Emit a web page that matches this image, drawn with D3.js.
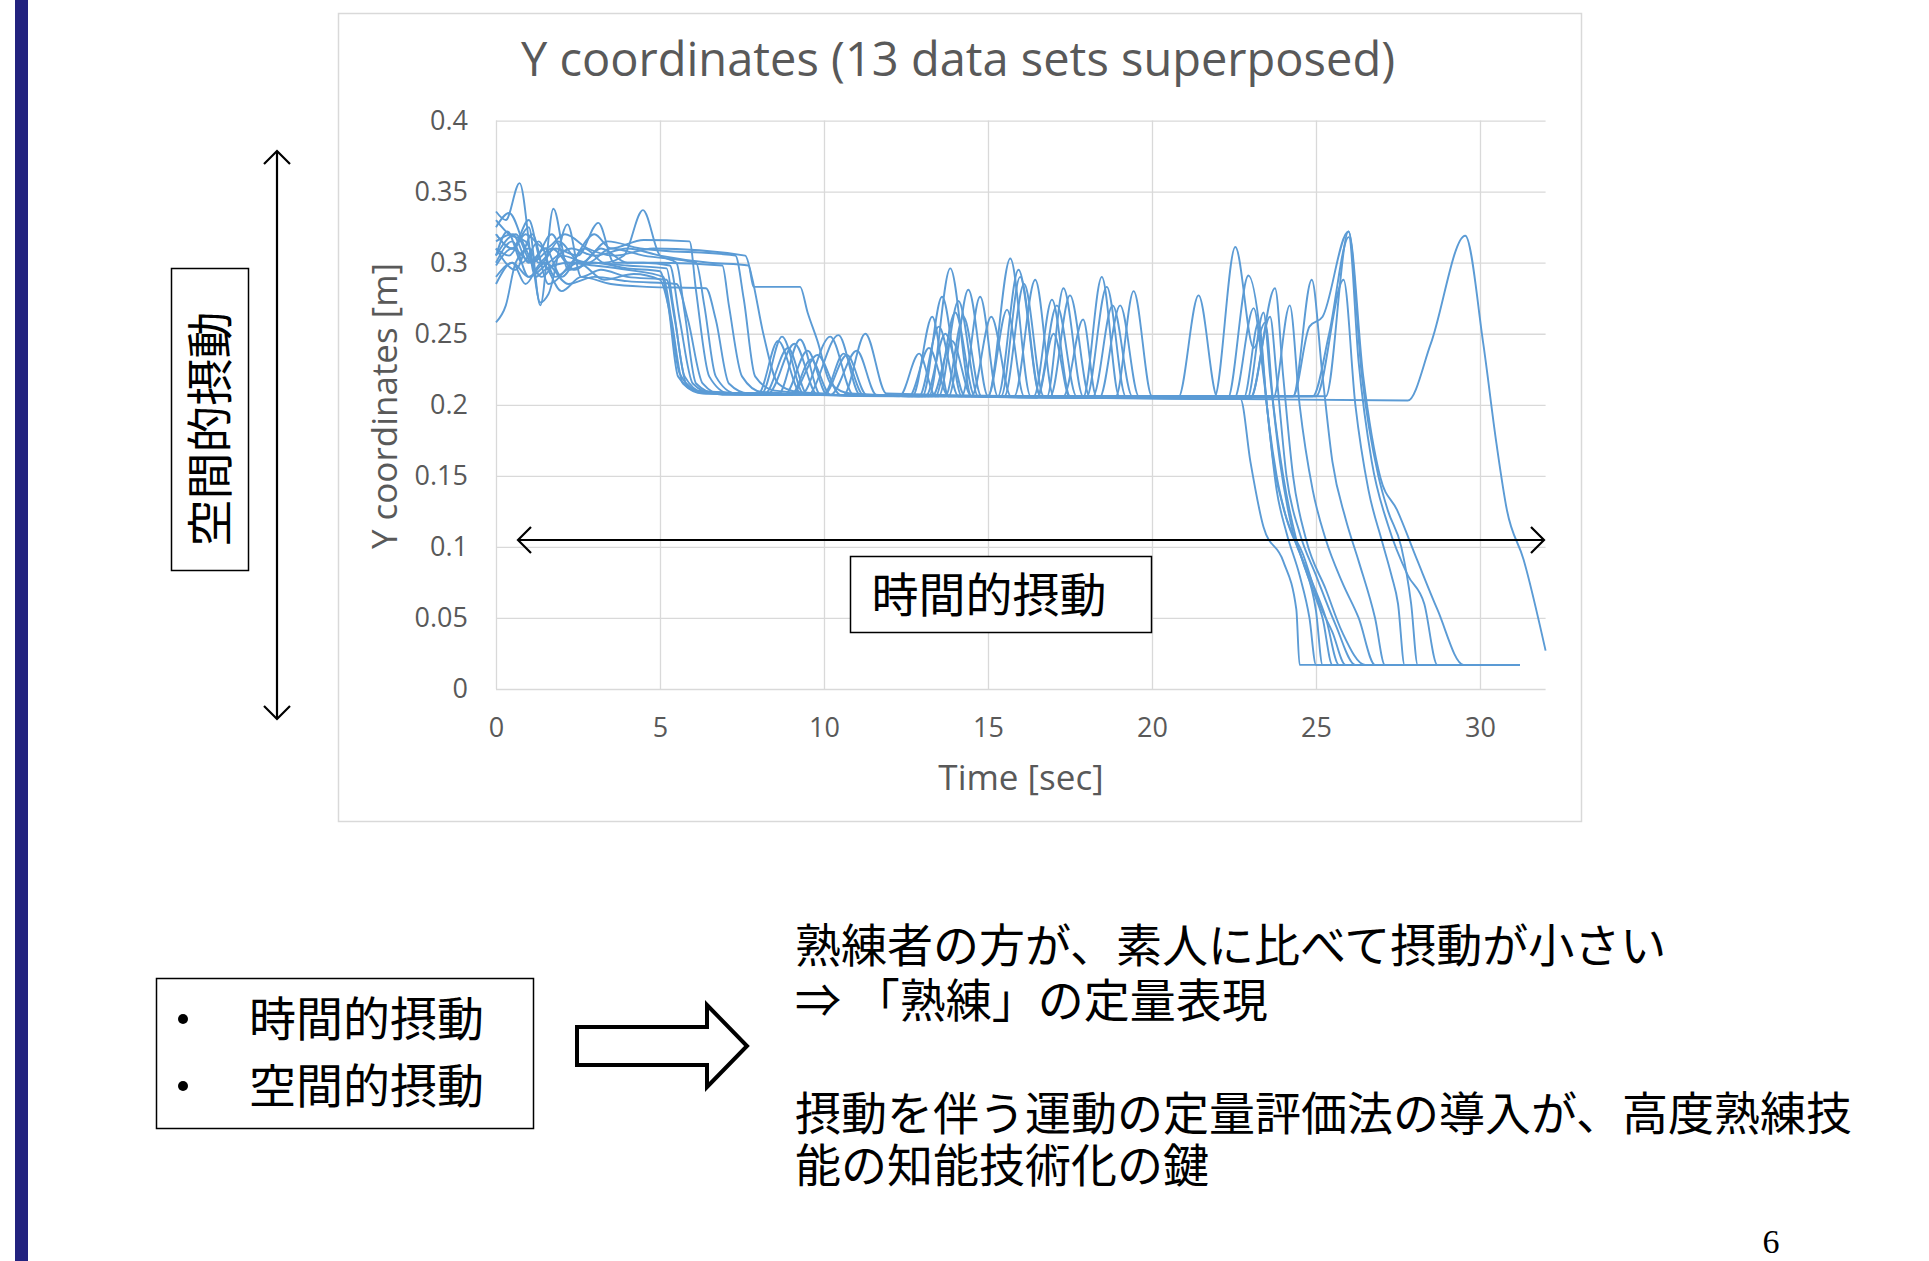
<!DOCTYPE html>
<html>
<head>
<meta charset="utf-8">
<script src="https://cdn.jsdelivr.net/npm/d3@7"></script>
<style>
  body { margin: 0; background: #fff; }
  svg { display: block; }
</style>
</head>
<body>
<div id="chart-container"></div>
<script>
// Axis ticks
const timeTicks = [0, 5, 10, 15, 20, 25, 30];
const yTicks = [0, 0.05, 0.1, 0.15, 0.2, 0.25, 0.3, 0.35, 0.4];
const yTickLabels = ["0", "0.05", "0.1", "0.15", "0.2", "0.25", "0.3", "0.35", "0.4"];

// Traces: [time sec, Y m]
const trace01 = [[0,0.305],[0.35,0.322],[0.8,0.300],[1.3,0.315],[1.8,0.290],[2.5,0.300],[3.3,0.288],[4.2,0.292],[5.0,0.288],[5.25,0.270],[5.6,0.222],[6.2,0.209],[8.0,0.208],[8.6,0.245],[9.3,0.208],[12.3,0.206],[12.9,0.236],[13.4,0.206],[14.5,0.206],[15.1,0.262],[15.7,0.206],[21.9,0.205],[22.54,0.311],[23.1,0.240],[23.45,0.258],[23.7,0.200],[24.0,0.150],[24.4,0.105],[24.9,0.070],[25.2,0.050],[25.5,0.017],[31.2,0.017]];
const trace02 = [[0,0.336],[0.3,0.330],[0.72,0.356],[1.2,0.290],[1.5,0.295],[2.2,0.300],[3.0,0.298],[4.0,0.295],[5.1,0.290],[5.35,0.260],[5.7,0.215],[6.3,0.208],[8.1,0.208],[8.72,0.248],[9.4,0.207],[13.0,0.206],[13.6,0.276],[14.2,0.206],[16.4,0.206],[16.95,0.274],[17.5,0.206],[22.3,0.204],[22.94,0.291],[23.3,0.250],[23.5,0.200],[23.8,0.150],[24.1,0.120],[24.6,0.090],[25.0,0.055],[25.2,0.017],[31.2,0.017]];
const trace03 = [[0,0.320],[0.5,0.310],[1.0,0.325],[1.35,0.270],[1.75,0.338],[2.2,0.295],[3.0,0.300],[4.0,0.296],[5.0,0.294],[5.25,0.270],[5.55,0.220],[6.1,0.210],[8.2,0.208],[8.9,0.240],[9.5,0.207],[13.2,0.206],[13.85,0.296],[14.5,0.206],[17.9,0.205],[18.47,0.290],[19.0,0.206],[22.7,0.204],[23.0,0.160],[23.4,0.114],[24.0,0.090],[24.4,0.056],[24.5,0.017],[31.2,0.017]];
const trace04 = [[0,0.258],[0.3,0.270],[0.6,0.300],[1.0,0.310],[1.35,0.272],[1.6,0.278],[2.18,0.327],[2.6,0.290],[3.2,0.295],[4.0,0.290],[5.2,0.288],[5.45,0.260],[5.8,0.215],[6.4,0.208],[8.6,0.207],[9.27,0.246],[9.9,0.207],[13.5,0.206],[14.1,0.273],[14.7,0.206],[16.8,0.206],[17.3,0.282],[17.9,0.206],[22.9,0.204],[23.4,0.265],[23.6,0.220],[23.9,0.160],[24.3,0.110],[24.8,0.080],[25.3,0.050],[25.7,0.017],[31.2,0.017]];
const trace05 = [[0,0.330],[0.4,0.320],[0.9,0.315],[1.3,0.300],[1.8,0.310],[2.5,0.305],[3.12,0.328],[3.6,0.300],[4.5,0.300],[5.3,0.298],[5.6,0.260],[6.0,0.215],[6.6,0.208],[8.8,0.207],[9.5,0.238],[10.1,0.207],[12.7,0.206],[13.3,0.262],[13.8,0.206],[15.0,0.206],[15.58,0.267],[16.1,0.206],[22.5,0.204],[23.1,0.268],[23.4,0.220],[23.7,0.160],[24.1,0.120],[24.6,0.095],[25.1,0.060],[25.5,0.040],[25.9,0.017],[31.2,0.017]];
const trace06 = [[0,0.315],[0.5,0.320],[1.0,0.300],[1.5,0.310],[2.0,0.290],[2.7,0.310],[3.3,0.300],[3.9,0.305],[4.48,0.337],[5.0,0.305],[5.5,0.300],[5.75,0.265],[6.1,0.215],[6.7,0.208],[9.3,0.207],[10.19,0.248],[10.9,0.207],[13.8,0.206],[14.4,0.281],[15.0,0.206],[18.0,0.205],[18.62,0.283],[19.2,0.206],[23.0,0.204],[23.6,0.262],[23.8,0.220],[24.1,0.150],[24.5,0.110],[25.0,0.080],[25.6,0.045],[26.2,0.017],[31.2,0.017]];
const trace07 = [[0,0.300],[0.5,0.315],[1.0,0.290],[1.5,0.300],[2.2,0.285],[3.0,0.290],[4.0,0.287],[5.5,0.285],[5.85,0.260],[6.3,0.215],[6.9,0.207],[9.5,0.207],[10.44,0.249],[11.1,0.207],[14.2,0.206],[14.76,0.276],[15.3,0.206],[18.4,0.205],[19.03,0.270],[19.6,0.206],[23.0,0.205],[23.75,0.282],[24.0,0.220],[24.3,0.150],[24.7,0.105],[25.3,0.070],[25.8,0.040],[26.5,0.017],[31.2,0.017]];
const trace08 = [[0,0.310],[0.6,0.295],[1.1,0.320],[1.6,0.285],[2.3,0.300],[3.0,0.320],[3.5,0.310],[4.5,0.316],[5.9,0.315],[6.1,0.280],[6.5,0.220],[7.1,0.208],[9.0,0.207],[9.8,0.235],[10.5,0.207],[13.1,0.206],[13.7,0.250],[14.3,0.206],[15.0,0.206],[15.68,0.303],[16.3,0.206],[20.8,0.205],[21.42,0.277],[22.0,0.205],[23.7,0.205],[24.2,0.270],[24.5,0.200],[24.9,0.140],[25.3,0.105],[25.8,0.075],[26.3,0.050],[26.8,0.017],[31.2,0.017]];
const trace09 = [[0,0.325],[0.4,0.335],[0.9,0.310],[1.4,0.290],[2.0,0.305],[2.8,0.300],[3.5,0.310],[4.5,0.305],[6.1,0.300],[6.35,0.270],[6.7,0.220],[7.3,0.208],[9.0,0.207],[9.6,0.232],[10.2,0.207],[12.9,0.206],[13.5,0.255],[14.1,0.206],[15.3,0.206],[15.93,0.295],[16.6,0.206],[24.3,0.206],[24.87,0.288],[25.2,0.220],[25.5,0.160],[25.9,0.120],[26.3,0.090],[26.8,0.050],[27.1,0.017],[31.2,0.017]];
const trace10 = [[0,0.290],[0.5,0.300],[0.9,0.285],[1.4,0.300],[2.0,0.280],[2.6,0.290],[3.5,0.285],[4.6,0.283],[6.4,0.282],[6.7,0.260],[7.1,0.215],[7.7,0.208],[10.0,0.207],[10.7,0.235],[11.3,0.207],[12.6,0.206],[13.2,0.240],[13.8,0.206],[15.4,0.206],[15.98,0.290],[16.6,0.206],[16.9,0.206],[17.5,0.277],[18.1,0.206],[22.8,0.205],[23.25,0.258],[23.5,0.200],[23.8,0.140],[24.1,0.110],[24.5,0.080],[24.8,0.050],[25.0,0.017],[31.2,0.017]];
const trace11 = [[0,0.305],[0.6,0.320],[1.1,0.300],[1.7,0.310],[2.4,0.295],[3.2,0.310],[4.0,0.300],[5.0,0.300],[6.9,0.298],[7.1,0.270],[7.5,0.220],[8.1,0.209],[10.2,0.207],[11.0,0.238],[11.6,0.207],[15.8,0.206],[16.44,0.288],[17.0,0.206],[18.2,0.206],[18.8,0.270],[19.4,0.206],[25.0,0.206],[25.84,0.288],[26.2,0.200],[26.6,0.140],[27.0,0.105],[27.3,0.080],[27.5,0.060],[27.7,0.017],[31.2,0.017]];
const trace12 = [[0,0.320],[0.5,0.310],[1.0,0.330],[1.4,0.300],[1.9,0.315],[2.6,0.300],[3.4,0.315],[4.4,0.310],[7.3,0.305],[7.55,0.275],[7.9,0.220],[8.5,0.210],[10.6,0.207],[11.26,0.250],[11.9,0.208],[17.3,0.206],[17.9,0.260],[18.3,0.206],[18.9,0.206],[19.44,0.280],[20.0,0.206],[24.3,0.206],[24.8,0.255],[25.2,0.262],[25.99,0.322],[26.4,0.220],[26.9,0.150],[27.2,0.125],[27.6,0.100],[27.9,0.060],[28.1,0.017],[31.2,0.017]];
const trace13 = [[0,0.310],[0.4,0.305],[0.9,0.320],[1.5,0.310],[2.1,0.320],[2.8,0.310],[3.6,0.305],[4.8,0.310],[7.6,0.305],[7.8,0.290],[8.15,0.250],[8.6,0.215],[9.2,0.209],[10.0,0.208],[10.6,0.236],[11.2,0.207],[13.7,0.206],[14.25,0.262],[14.8,0.206],[15.5,0.206],[16.1,0.285],[16.7,0.206],[24.9,0.206],[25.4,0.250],[26.0,0.318],[26.3,0.230],[26.7,0.160],[27.2,0.115],[27.8,0.080],[28.3,0.060],[28.7,0.017],[31.2,0.017]];
const trace14 = [[0,0.285],[0.5,0.300],[1.0,0.290],[1.6,0.300],[2.3,0.310],[3.0,0.305],[4.0,0.310],[5.0,0.305],[6.5,0.300],[7.7,0.298],[7.85,0.283],[9.27,0.283],[9.5,0.265],[9.8,0.245],[10.2,0.215],[10.8,0.208],[13.3,0.206],[13.9,0.245],[14.5,0.206],[16.5,0.206],[17.1,0.270],[17.7,0.206],[25.3,0.206],[25.99,0.322],[26.44,0.220],[26.96,0.149],[27.47,0.126],[28.08,0.091],[28.7,0.056],[29.5,0.017],[31.2,0.017]];
const trace15 = [[0,0.298],[0.5,0.310],[1.1,0.300],[1.7,0.320],[2.2,0.300],[3.0,0.300],[4.0,0.298],[5.2,0.296],[5.4,0.270],[5.75,0.220],[6.3,0.209],[8.3,0.208],[9.1,0.243],[9.8,0.207],[13.4,0.206],[14.0,0.265],[14.6,0.206],[16.5,0.205],[17.0,0.250],[17.5,0.205],[27.8,0.203],[28.5,0.243],[29.55,0.319],[30.1,0.243],[30.5,0.173],[30.82,0.126],[31.33,0.091],[32.0,0.027]];

const traces = [trace01, trace02, trace03, trace04, trace05, trace06, trace07, trace08,
                trace09, trace10, trace11, trace12, trace13, trace14, trace15];

const W = 1929, H = 1261;
const svg = d3.select("#chart-container").append("svg")
    .attr("width", W).attr("height", H);

// Left slide bar
svg.append("rect").attr("x", 15).attr("y", 0).attr("width", 13).attr("height", H).attr("fill", "#22227f");

// Chart frame
svg.append("rect").attr("x", 338.5).attr("y", 13.5).attr("width", 1243).attr("height", 808)
    .attr("fill", "#fff").attr("stroke", "#d9d9d9").attr("stroke-width", 1.5);

const x = d3.scaleLinear().domain([0, 32]).range([496, 1545.6]);
const y = d3.scaleLinear().domain([0, 0.4]).range([689, 120.6]);

const grey = "#595959";
const font = "'Open Sans', 'DejaVu Sans', sans-serif";

// Gridlines
const gy = svg.append("g").attr("transform", `translate(${x(0)},0)`)
    .call(d3.axisLeft(y).tickValues(yTicks).tickSize(-(x(32) - x(0))).tickFormat(""));
const gx = svg.append("g").attr("transform", `translate(0,${y(0)})`)
    .call(d3.axisBottom(x).tickValues(timeTicks).tickSize(-(y(0) - y(0.4))).tickFormat(""));
[gx, gy].forEach(g => {
    g.select(".domain").remove();
    g.selectAll("line").attr("stroke", "#d9d9d9").attr("stroke-width", 1.3);
});

// Tick labels
const ay = svg.append("g").attr("transform", `translate(${x(0)},0)`)
    .call(d3.axisLeft(y).tickValues(yTicks).tickSize(0).tickPadding(28)
        .tickFormat((d, i) => yTickLabels[i]));
const ax = svg.append("g").attr("transform", `translate(0,${y(0)})`)
    .call(d3.axisBottom(x).tickValues(timeTicks).tickSize(0).tickPadding(29));
[ax, ay].forEach(g => {
    g.select(".domain").remove();
    g.selectAll("text").attr("fill", grey).style("font-family", font).style("font-size", "27px");
});

// Series
const line = d3.line()
    .x(d => x(d[0]))
    .y(d => y(d[1]))
    .curve(d3.curveMonotoneX);

svg.append("g").selectAll("path")
    .data(traces)
    .enter().append("path")
    .attr("d", line)
    .attr("fill", "none")
    .attr("stroke", "#5b9bd5")
    .attr("stroke-width", 1.9)
    .attr("stroke-linejoin", "round");

// Titles
svg.append("text").attr("x", 958).attr("y", 76).attr("text-anchor", "middle")
    .attr("fill", grey).style("font-family", font).style("font-size", "47px")
    .text("Y coordinates (13 data sets superposed)");
svg.append("text").attr("x", 1021).attr("y", 790).attr("text-anchor", "middle")
    .attr("fill", grey).style("font-family", font).style("font-size", "35px")
    .text("Time [sec]");
svg.append("text").attr("transform", "translate(397,406) rotate(-90)").attr("text-anchor", "middle")
    .attr("fill", grey).style("font-family", font).style("font-size", "35px")
    .text("Y coordinates [m]");

// Annotation arrows
function chevron(px, py, dir, s) {
    // dir: "left" | "right" | "up" | "down"
    const p = {
        left: [[px + s, py - s], [px, py], [px + s, py + s]],
        right: [[px - s, py - s], [px, py], [px - s, py + s]],
        up: [[px - s, py + s], [px, py], [px + s, py + s]],
        down: [[px - s, py - s], [px, py], [px + s, py - s]]
    }[dir];
    svg.append("path").attr("d", d3.line()(p)).attr("fill", "none")
        .attr("stroke", "#000").attr("stroke-width", 2.2);
}
svg.append("line").attr("x1", 518).attr("x2", 1544).attr("y1", 540).attr("y2", 540)
    .attr("stroke", "#000").attr("stroke-width", 2.2);
chevron(518, 540, "left", 13);
chevron(1544, 540, "right", 13);
svg.append("line").attr("x1", 277).attr("x2", 277).attr("y1", 151).attr("y2", 719)
    .attr("stroke", "#000").attr("stroke-width", 2.2);
chevron(277, 151, "up", 13);
chevron(277, 719, "down", 13);

// Latin font first keeps line boxes compact; kanji fall back to Noto CJK
const jp = "'Liberation Sans', 'Noto Sans CJK JP', sans-serif";

// Boxed labels
svg.append("rect").attr("x", 850.5).attr("y", 556.5).attr("width", 301).attr("height", 76)
    .attr("fill", "#fff").attr("stroke", "#000").attr("stroke-width", 1.5);
svg.append("text").attr("x", 989).attr("y", 612).attr("text-anchor", "middle")
    .style("font-family", jp).style("font-size", "47px").text("時間的摂動");

svg.append("rect").attr("x", 171.5).attr("y", 268.5).attr("width", 77).attr("height", 302)
    .attr("fill", "#fff").attr("stroke", "#000").attr("stroke-width", 1.5);
svg.append("text").attr("transform", "translate(227,429) rotate(-90)").attr("text-anchor", "middle")
    .style("font-family", jp).style("font-size", "47px").text("空間的摂動");

// Bottom summary box
svg.append("rect").attr("x", 156.5).attr("y", 978.5).attr("width", 377).attr("height", 150)
    .attr("fill", "#fff").attr("stroke", "#000").attr("stroke-width", 1.5);
[["時間的摂動", 1036], ["空間的摂動", 1103]].forEach(([t, yy]) => {
    svg.append("circle").attr("cx", 183).attr("cy", yy - 17).attr("r", 5).attr("fill", "#000");
    svg.append("text").attr("x", 249).attr("y", yy)
        .style("font-family", jp).style("font-size", "47px").text(t);
});

// Block arrow
svg.append("path")
    .attr("d", "M577,1027 L707,1027 L707,1005 L747,1046 L707,1087 L707,1065 L577,1065 Z")
    .attr("fill", "#fff").attr("stroke", "#000").attr("stroke-width", 4).attr("stroke-linejoin", "miter");

// Conclusions
[["熟練者の方が、素人に比べて摂動が小さい", 962],
 ["⇒ 「熟練」の定量表現", 1017],
 ["摂動を伴う運動の定量評価法の導入が、高度熟練技", 1130],
 ["能の知能技術化の鍵", 1182]].forEach(([t, yy]) => {
    svg.append("text").attr("x", 795).attr("y", yy)
        .style("font-family", jp).style("font-size", "46px").text(t);
});

// Page number
svg.append("text").attr("x", 1771).attr("y", 1253).attr("text-anchor", "middle")
    .style("font-family", "'Liberation Serif', serif").style("font-size", "34px").text("6");
</script>
</body>
</html>
